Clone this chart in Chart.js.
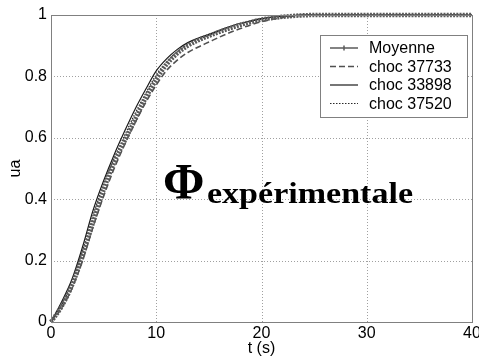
<!DOCTYPE html>
<html>
<head>
<meta charset="utf-8">
<script src="https://cdn.jsdelivr.net/npm/chart.js@4"></script>
<style>
  html, body { margin: 0; padding: 0; background: #fff; }
  #wrap { width: 479px; height: 358px; }
</style>
</head>
<body>
<div id="wrap"><canvas id="grafico" width="479" height="358"></canvas></div>
<script>
// temps (s)
const tSec = [0,1,2,3,4,5,6,7,8,9,10,11,12,13,14,15,16,17,18,19,20,21,22,23,24,25,30,35,40];

const moyenne     = [0,0.05,0.12,0.215,0.325,0.43,0.52,0.59,0.66,0.73,0.79,0.84,0.875,0.9,0.918,0.932,0.945,0.957,0.968,0.977,0.985,0.99,0.994,0.997,0.999,1,1,1,1];
const choc37733   = [0,0.045,0.11,0.2,0.31,0.41,0.5,0.578,0.65,0.715,0.772,0.82,0.853,0.878,0.896,0.912,0.928,0.943,0.956,0.968,0.978,0.986,0.992,0.996,0.999,1,1,1,1];
const choc33898   = [0,0.065,0.14,0.245,0.364,0.46,0.545,0.622,0.694,0.758,0.818,0.858,0.888,0.91,0.925,0.937,0.95,0.962,0.973,0.981,0.988,0.993,0.996,0.998,1,1,1,1,1];
const choc37520   = [0,0.055,0.13,0.232,0.348,0.448,0.533,0.608,0.68,0.745,0.805,0.848,0.88,0.904,0.92,0.934,0.948,0.96,0.971,0.98,0.987,0.992,0.995,0.998,1,1,1,1,1];

const xTicks = [0,10,20,30,40];
const yTicks = [0,0.2,0.4,0.6,0.8,1];
const nomsLegende = ['Moyenne','choc 37733','choc 33898','choc 37520'];

const pts = arr => tSec.map((t, i) => ({ x: t, y: arr[i] }));

const styles = [
  { color: '#5a5a5a', width: 4.5, dash: [2, 1.2] },
  { color: '#505050', width: 1.6, dash: [6, 3] },
  { color: '#1a1a1a', width: 1.2, dash: [] },
  { color: '#2a2a2a', width: 1.2, dash: [1.5, 1.5] }
];
const series = [moyenne, choc37733, choc33898, choc37520];

// grille pointillée (style matlab)
const grille = {
  id: 'grille',
  beforeDatasetsDraw(chart) {
    const { ctx, chartArea: a, scales } = chart;
    ctx.save();
    ctx.strokeStyle = '#a0a0a0';
    ctx.lineWidth = 1;
    ctx.setLineDash([1, 2]);
    xTicks.forEach(v => {
      const px = Math.round(scales.x.getPixelForValue(v)) + 0.5;
      ctx.beginPath(); ctx.moveTo(px, a.top); ctx.lineTo(px, a.bottom); ctx.stroke();
    });
    yTicks.forEach(v => {
      const py = Math.round(scales.y.getPixelForValue(v)) + 0.5;
      ctx.beginPath(); ctx.moveTo(a.left, py); ctx.lineTo(a.right, py); ctx.stroke();
    });
    ctx.restore();
  }
};

// cadre + légende + annotation
const cadre = {
  id: 'cadre',
  afterDraw(chart) {
    const { ctx, chartArea: a } = chart;
    ctx.save();
    ctx.strokeStyle = '#808080';
    ctx.lineWidth = 1;
    ctx.strokeRect(a.left + 0.5, a.top + 0.5, a.right - a.left, a.bottom - a.top);

    // légende
    const bx = 320, by = 35, bw = 147, bh = 82;
    ctx.fillStyle = '#fff';
    ctx.fillRect(bx, by, bw, bh);
    ctx.strokeStyle = '#808080';
    ctx.strokeRect(bx + 0.5, by + 0.5, bw, bh);
    ctx.font = '16px "Liberation Sans", Arial, sans-serif';
    ctx.textBaseline = 'middle';
    nomsLegende.forEach((nom, i) => {
      const y = by + 13 + i * 18.5;
      const s = styles[i];
      ctx.strokeStyle = s.color;
      ctx.lineWidth = i === 0 ? 1.5 : s.width;
      ctx.setLineDash(i === 0 ? [] : s.dash);
      ctx.beginPath();
      ctx.moveTo(330, y);
      ctx.lineTo(358, y);
      ctx.stroke();
      if (i === 0) {
        ctx.beginPath();
        ctx.moveTo(344, y - 2.5); ctx.lineTo(344, y + 2.5);
        ctx.stroke();
      }
      ctx.setLineDash([]);
      ctx.fillStyle = '#000';
      ctx.fillText(nom, 369, y + 1);
    });

    // Φ expérimentale
    ctx.fillStyle = '#000';
    ctx.textBaseline = 'alphabetic';
    ctx.font = 'bold 50px "Liberation Serif", "Times New Roman", serif';
    ctx.fillText('Φ', 163, 198);
    ctx.font = 'bold 30px "Liberation Serif", "Times New Roman", serif';
    const txt = 'expérimentale';
    const sx = 206 / ctx.measureText(txt).width;
    ctx.translate(207, 203);
    ctx.scale(sx, 1);
    ctx.fillText(txt, 0, 0);
    ctx.restore();
  }
};

new Chart(document.getElementById('grafico'), {
  type: 'line',
  data: {
    datasets: series.map((arr, i) => ({
      label: nomsLegende[i],
      data: pts(arr),
      borderColor: styles[i].color,
      borderWidth: styles[i].width,
      borderDash: styles[i].dash,
      pointRadius: 0,
      fill: false,
      cubicInterpolationMode: 'monotone',
      clip: false
    }))
  },
  options: {
    responsive: false,
    animation: false,
    layout: { padding: { top: 15, right: 7, left: 0, bottom: 0 } },
    plugins: { legend: { display: false }, tooltip: { enabled: false } },
    scales: {
      x: {
        type: 'linear',
        min: 0, max: 40,
        afterBuildTicks: s => { s.ticks = xTicks.map(v => ({ value: v })); },
        afterFit: s => { s.height = 36; s.paddingLeft = 0; s.paddingRight = 0; },
        ticks: { color: '#000', font: { size: 16, family: '"Liberation Sans", Arial' }, padding: 2, maxRotation: 0 },
        grid: { display: false, drawTicks: false, tickLength: 0 },
        border: { display: false },
        title: { display: true, text: 't (s)', color: '#000', font: { size: 16, family: '"Liberation Sans", Arial' }, padding: { top: -4, bottom: 0 } }
      },
      y: {
        min: 0, max: 1,
        afterBuildTicks: s => { s.ticks = yTicks.map(v => ({ value: v })); },
        afterFit: s => { s.width = 51; s.paddingTop = 0; s.paddingBottom = 0; },
        ticks: { color: '#000', font: { size: 16, family: '"Liberation Sans", Arial' }, padding: 4, callback: v => String(v) },
        grid: { display: false, drawTicks: false, tickLength: 0 },
        border: { display: false },
        title: { display: true, text: 'ua', color: '#000', font: { size: 16, family: '"Liberation Sans", Arial' }, padding: { top: 6, bottom: 0 } }
      }
    }
  },
  plugins: [grille, cadre]
});
</script>
</body>
</html>
